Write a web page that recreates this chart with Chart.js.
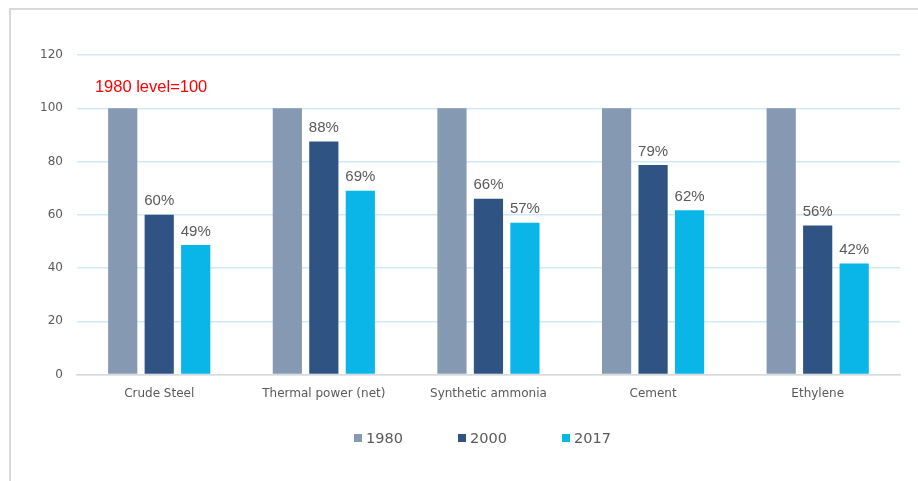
<!DOCTYPE html>
<html>
<head>
<meta charset="utf-8">
<script src="https://cdn.jsdelivr.net/npm/chart.js@4"></script>
<style>
    html, body { margin: 0; padding: 0; background: #fff; overflow: hidden; }
    canvas { display: block; }
</style>
</head>
<body>
<canvas id="grafico" width="918" height="481"></canvas>
<script>
/* Datos del gráfico (1980 = 100) */
const CATEGORIAS = ["Crude Steel", "Thermal power (net)", "Synthetic ammonia", "Cement", "Ethylene"];
const SERIES = ["1980", "2000", "2017"];
const VALORES_1980 = [100, 100, 100, 100, 100];
const VALORES_2000 = [60, 87.5, 66, 78.7, 56];
const VALORES_2017 = [48.7, 69, 57, 61.7, 41.7];
const TICKS_Y = [0, 20, 40, 60, 80, 100, 120];
const NOTA = "1980 level=100";

const COLORES = ["#8599b2", "#2f5484", "#0ab6e8"];
const GRIS_TEXTO = "#595959";
const FUENTE_EJES = "'DejaVu Sans', sans-serif";

/* Marco gris del recuadro */
const pluginMarco = {
    id: "marco",
    beforeDraw(chart) {
        const ctx = chart.ctx;
        ctx.save();
        ctx.strokeStyle = "#d9d9d9";
        ctx.lineWidth = 2;
        ctx.beginPath();
        ctx.moveTo(10, chart.height);
        ctx.lineTo(10, 9);
        ctx.lineTo(chart.width, 9);
        ctx.stroke();
        ctx.restore();
    }
};

/* Etiquetas de %, nota roja y leyenda */
const pluginEtiquetas = {
    id: "etiquetas",
    afterDatasetsDraw(chart) {
        const ctx = chart.ctx;
        ctx.save();
        ctx.font = "15px 'Liberation Sans', Arial, sans-serif";
        ctx.fillStyle = GRIS_TEXTO;
        ctx.textAlign = "center";
        ctx.textBaseline = "bottom";
        [1, 2].forEach(i => {
            const meta = chart.getDatasetMeta(i);
            meta.data.forEach((bar, j) => {
                const v = chart.data.datasets[i].data[j];
                ctx.fillText(Math.round(v) + "%", bar.x, bar.y - 6);
            });
        });

        // nota roja
        const yNota = chart.scales.y.getPixelForValue(108);
        ctx.font = "16.5px 'Liberation Sans', Arial, sans-serif";
        ctx.fillStyle = "#ff0000";
        ctx.textAlign = "left";
        ctx.textBaseline = "middle";
        ctx.fillText(NOTA, chart.chartArea.left + 18, yNota);

        // leyenda
        const paso = 104;
        const xIni = 354;
        const yLey = 438;
        ctx.font = "14.5px " + FUENTE_EJES;
        ctx.textBaseline = "middle";
        SERIES.forEach((s, i) => {
            const x = xIni + i * paso;
            ctx.fillStyle = COLORES[i];
            ctx.fillRect(x, yLey - 4, 8, 8);
            ctx.fillStyle = GRIS_TEXTO;
            ctx.fillText(s, x + 12, yLey + 1);
        });
        ctx.restore();
    }
};

new Chart(document.getElementById("grafico"), {
    type: "bar",
    data: {
        labels: CATEGORIAS,
        datasets: [VALORES_1980, VALORES_2000, VALORES_2017].map((d, i) => ({
            label: SERIES[i],
            data: d,
            backgroundColor: COLORES[i],
            borderWidth: 0,
            categoryPercentage: 0.665,
            barPercentage: 0.8
        }))
    },
    options: {
        responsive: false,
        animation: false,
        layout: { padding: { top: 55, right: 18, left: 26, bottom: 76 } },
        plugins: {
            tooltip: { enabled: false },
            legend: { display: false }
        },
        scales: {
            x: {
                grid: { display: false },
                border: { color: "#d9d9d9", width: 1.5 },
                ticks: { color: GRIS_TEXTO, font: { family: FUENTE_EJES, size: 12 }, padding: 4 }
            },
            y: {
                min: 0,
                max: 120,
                afterBuildTicks(axis) { axis.ticks = TICKS_Y.map(v => ({ value: v })); },
                grid: { color: "#cfe9f8", lineWidth: 1.5, drawTicks: false },
                border: { display: false },
                ticks: { color: GRIS_TEXTO, font: { family: FUENTE_EJES, size: 12 }, padding: 14 }
            }
        }
    },
    plugins: [pluginMarco, pluginEtiquetas]
});
</script>
</body>
</html>
